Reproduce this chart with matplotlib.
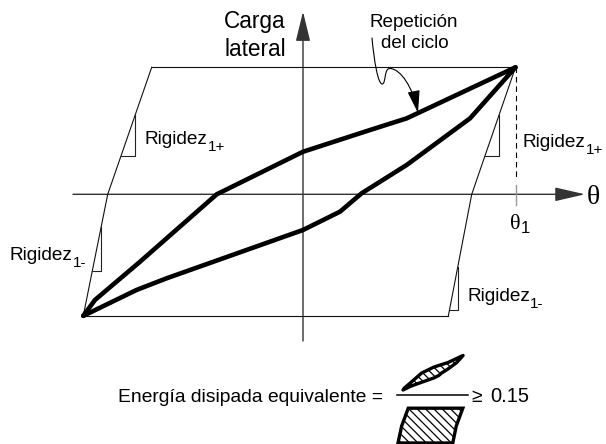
import numpy as np
import matplotlib
matplotlib.use("Agg")
import matplotlib.pyplot as plt
from matplotlib.patches import Polygon, FancyArrowPatch
from matplotlib.path import Path

plt.rcParams['font.family'] = ['Liberation Sans', 'DejaVu Sans']
plt.rcParams['hatch.linewidth'] = 0.9

# ---- data (theta / theta_1 , lateral load / peak load) ----
upper_theta = [-1.034, -0.979, -0.767, -0.406, 0.000, 0.315, 0.488, 1.000]
upper_load  = [-0.957, -0.832, -0.531, 0.000, 0.335, 0.506, 0.598, 1.000]
lower_theta = [-1.034, -0.783, -0.641, 0.000, 0.174, 0.276, 0.488, 0.786, 1.000]
lower_load  = [-0.957, -0.753, -0.661, -0.281, -0.137, 0.008, 0.231, 0.598, 1.000]

# envelope (parallelogram) edges: top, axis crossing, bottom
edge_load        = [1.000, 0.000, -0.957]
left_edge_theta  = [-0.712, -0.919, -1.034]
right_edge_theta = [1.000, 0.794, 0.684]

theta_1 = 1.0
peak_load = 1.0

# slope-marker load ranges (top, bottom)
marker_left  = [(0.624, 0.302), (-0.255, -0.602)]
marker_right = [(0.624, 0.302), (-0.570, -0.911)]

# ---- layout ----
W, H = 606, 444
X0, Y0, SX, SY = 303.0, 194.3, 212.5, 127.0

fig = plt.figure(figsize=(W / 100, H / 100), dpi=100)
ax = fig.add_axes([0, 0, 1, 1])
ax.set_xlim(-X0 / SX, (W - X0) / SX)
ax.set_ylim((Y0 - H) / SY, Y0 / SY)
ax.axis('off')


def d(px, py):
    return ((px - X0) / SX, (Y0 - py) / SY)


def ft(px, py, s, **kw):
    return fig.text(px / W, 1 - py / H, s, **kw)


# axes with arrows
ax.add_patch(FancyArrowPatch(d(73, Y0), d(585, Y0),
                             arrowstyle='-|>,head_length=18.7,head_width=4.3',
                             mutation_scale=1, lw=1.0, color='#333',
                             shrinkA=0, shrinkB=0))
ax.add_patch(FancyArrowPatch(d(X0, 341), d(X0, 11.7),
                             arrowstyle='-|>,head_length=18.4,head_width=4.5',
                             mutation_scale=1, lw=1.0, color='#333',
                             shrinkA=0, shrinkB=0))

# envelope
thin = dict(color='#111', lw=0.8)
ax.plot([left_edge_theta[0], right_edge_theta[0]], [edge_load[0]] * 2, **thin)
ax.plot([left_edge_theta[2], right_edge_theta[2]], [edge_load[2]] * 2, **thin)
ax.plot(left_edge_theta, edge_load, **thin)
ax.plot(right_edge_theta, edge_load, **thin)

# slope markers
for edge, markers in ((left_edge_theta, marker_left), (right_edge_theta, marker_right)):
    for top, bot in markers:
        xt = np.interp(top, edge_load[::-1], edge[::-1])
        xb = np.interp(bot, edge_load[::-1], edge[::-1])
        ax.plot([xt, xt, xb], [top, bot, bot], color='#222', lw=0.8)

# hysteresis loop
thick = dict(color='black', lw=3.3, solid_joinstyle='round', solid_capstyle='round')
ax.plot(upper_theta, upper_load, **thick)
ax.plot(lower_theta, lower_load, **thick)

# theta_1 marker
ax.plot([theta_1, theta_1], [peak_load, d(0, 178)[1]], ls=(0, (5, 3.5)),
        lw=0.8, color='black')
ax.plot([theta_1, theta_1], [d(0, 185)[1], d(0, 205)[1]], color='#999', lw=1.0)

# curly arrow "Repetición del ciclo"
arrow_pts = [d(372, 38), d(374, 60), d(378, 85), d(382.5, 84),
             d(386, 83), d(384, 68), d(390, 68.5),
             d(401, 69), d(413, 88), d(418, 113)]
codes = [Path.MOVETO] + [Path.CURVE4] * 9
ax.add_patch(FancyArrowPatch(path=Path(arrow_pts, codes),
                             arrowstyle='-|>,head_length=14,head_width=3.8',
                             mutation_scale=1, lw=0.8, color='black'))

# icons for the ratio
xmin, ymin = min(upper_theta), min(upper_load)
s = 0.139
lx, ly = d(403, 390)
loop_x = np.r_[upper_theta, lower_theta[::-1]]
loop_y = np.r_[upper_load, lower_load[::-1]]
lens = Polygon(np.c_[lx + (loop_x - xmin) * s, ly + (loop_y - ymin) * s],
               closed=True, facecolor='white', edgecolor='black', lw=2.4,
               hatch='\\\\\\\\', joinstyle='round')
ax.add_patch(lens)

env_x = np.array([left_edge_theta[0], right_edge_theta[0], right_edge_theta[1],
                  right_edge_theta[2], left_edge_theta[2], left_edge_theta[1]])
env_y = np.array([edge_load[0], edge_load[0], edge_load[1],
                  edge_load[2], edge_load[2], edge_load[1]])
px0, py0 = d(398, 443)
para = Polygon(np.c_[px0 + (env_x - xmin) * 0.15, py0 + (env_y - ymin) * 0.14],
               closed=True, facecolor='white', edgecolor='black', lw=2.4,
               hatch='\\\\\\\\', joinstyle='miter')
ax.add_patch(para)

fx1, fy = d(396.7, 395)
fx2, _ = d(468, 395)
ax.plot([fx1, fx2], [fy, fy], color='black', lw=1.1)

# ---- texts ----
ft(255, 28, 'Carga', fontsize=16.3, ha='center', va='baseline')
ft(255, 56, 'lateral', fontsize=16.3, ha='center', va='baseline')
ft(414, 26.7, 'Repetición', fontsize=13.6, ha='center', va='baseline')
ft(415, 48.3, 'del ciclo', fontsize=13.6, ha='center', va='baseline')

for x, yb, sub in ((145, 143.5, '1+'), (523, 146.7, '1+'), (10, 260, '1-'), (467, 301, '1-')):
    t = ft(x, yb, 'Rigidez', fontsize=13.7, ha='left', va='baseline')
    ax.annotate(sub, xy=(1, 0), xycoords=t, xytext=(0.2, -2.2),
                textcoords='offset points', fontsize=11, ha='left',
                va='baseline', annotation_clip=False)

serif = ['Liberation Serif', 'DejaVu Serif']
ft(593, 204, 'θ', fontsize=20, ha='center', va='baseline', family=serif)
ft(515.3, 228.5, 'θ', fontsize=16, ha='center', va='baseline', family=serif)
ft(521, 232.5, '1', fontsize=12, ha='left', va='baseline')

ft(383, 401.7, 'Energía disipada equivalente =', fontsize=13.9, ha='right', va='baseline')
ft(471, 401.7, '≥', fontsize=13.9, ha='left', va='baseline')
ft(490, 401.7, '0.15', fontsize=14.5, ha='left', va='baseline')

fig.savefig('out.png', dpi=100, facecolor='white')
